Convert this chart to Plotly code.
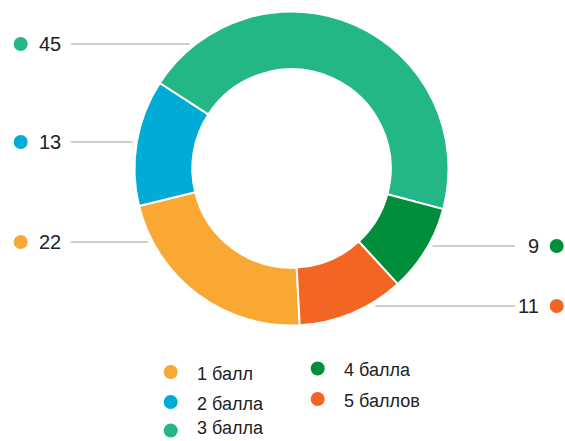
import math
import plotly.graph_objects as go

# --- data ---
categories = ["1 балл", "2 балла", "3 балла", "4 балла", "5 баллов"]
values = [22, 13, 45, 9, 11]
colors = ["#F9A834", "#00ABD6", "#23B787", "#008E3A", "#F26522"]

# --- layout (pixels) ---
W, H = 565, 441
CX, CY, R = 291.5, 168.5, 157.0
HOLE = 0.632
START_ANGLE = 177  # degrees clockwise from 12 o'clock

# callout rows: (category index, side, y in px)
callouts = [(2, "left", 44), (1, "left", 142), (0, "left", 242),
            (3, "right", 246), (4, "right", 306)]
# legend entries: (category index, dot x, dot y)
legend_pos = [(0, 170.7, 372), (1, 170.7, 402), (2, 170.7, 430.5),
              (3, 317.7, 368.5), (4, 317.7, 399)]

FONT = "Liberation Sans, Arial, sans-serif"
LINE_COLOR = "#9E9E9E"
LEGEND_SIZE = 18
# a single-line annotation box is about 1.3 * font size tall, plus padding
HALF_BOX = (1.3 * LEGEND_SIZE + 2) / 2

fig = go.Figure()

fig.add_trace(go.Pie(
    labels=categories,
    values=values,
    sort=False,
    direction="clockwise",
    rotation=START_ANGLE,
    hole=HOLE,
    marker=dict(colors=colors, line=dict(color="white", width=2)),
    textinfo="none",
    hoverinfo="label+value",
    showlegend=False,
    domain=dict(x=[(CX - R) / W, (CX + R) / W],
                y=[1 - (CY + R) / H, 1 - (CY - R) / H]),
))

annotations = []
GAP = 4
for idx, side, y in callouts:
    dy = y - CY
    dx = math.sqrt(max((R + GAP) ** 2 - dy ** 2, 0))
    if side == "left":
        x_edge = CX - dx
        x_line0, x_line1 = 70.7, x_edge
        dot_x, text_x, anchor = 20.7, 36.5, "left"
    else:
        x_edge = CX + dx
        x_line0, x_line1 = x_edge, 515
        dot_x, text_x, anchor = 556.7, 541, "right"
    fig.add_trace(go.Scatter(
        x=[x_line0, x_line1], y=[y, y], mode="lines",
        line=dict(color=LINE_COLOR, width=1),
        hoverinfo="skip", showlegend=False))
    fig.add_trace(go.Scatter(
        x=[dot_x], y=[y], mode="markers",
        marker=dict(size=14, color=colors[idx]),
        hoverinfo="skip", showlegend=False))
    annotations.append(dict(
        x=text_x, y=y, xref="x", yref="y", text=str(values[idx]),
        showarrow=False, xanchor=anchor, yanchor="middle",
        font=dict(family=FONT, size=20, color="#222222")))

for idx, x, y in legend_pos:
    fig.add_trace(go.Scatter(
        x=[x], y=[y], mode="markers",
        marker=dict(size=14, color=colors[idx]),
        hoverinfo="skip", showlegend=False))
    ty = min(y + 1.5, H - 0.5 - HALF_BOX)
    annotations.append(dict(
        x=x + 24, y=ty, xref="x", yref="y", text=categories[idx],
        showarrow=False, xanchor="left", yanchor="middle",
        font=dict(family=FONT, size=LEGEND_SIZE, color="#222222")))

fig.update_layout(
    width=W, height=H,
    margin=dict(l=0, r=0, t=0, b=0),
    paper_bgcolor="white", plot_bgcolor="white",
    xaxis=dict(range=[0, W], visible=False, fixedrange=True, domain=[0, 1]),
    yaxis=dict(range=[H, 0], visible=False, fixedrange=True, domain=[0, 1]),
    annotations=annotations,
)

fig.write_html("out.html")
